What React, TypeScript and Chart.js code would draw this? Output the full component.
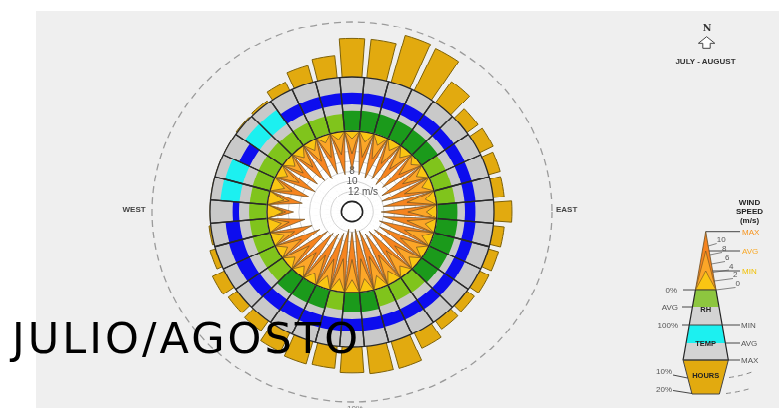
import React, { useEffect, useRef } from 'react';
import { Chart, registerables } from 'chart.js';

Chart.register(...registerables);

// ---------------- data (36 directions, clockwise from north) ----------------
const directions = ['N', '10°', '20°', '30°', '40°', '50°', '60°', '70°', '80°', 'E', '100°', '110°', '120°', '130°', '140°', '150°', '160°', '170°', 'S', '190°', '200°', '210°', '220°', '230°', '240°', '250°', '260°', 'W', '280°', '290°', '300°', '310°', '320°', '330°', '340°', '350°'];

// share of hours with wind from each direction (%)
const hoursPct = [7.0, 7.0, 8.8, 8.4, 4.7, 2.4, 2.6, 2.1, 1.9, 3.1, 1.9, 1.8, 1.8, 1.6, 1.8, 3.0, 5.0, 5.1, 4.8, 4.0, 4.2, 3.7, 2.2, 1.9, 2.3, 1.0, 0.3, 0, 0, 0, 0, 0.2, 0.4, 1.7, 3.1, 4.0];
// average relative humidity (%)
const rhAvgPct = [76, 77, 76, 75, 74, 72, 66, 65, 66, 73, 75, 76, 74, 73, 67, 66, 65, 74, 75, 66, 73, 74, 75, 66, 65, 64, 63, 64, 63, 64, 65, 66, 65, 66, 67, 66];
// average temperature, as % of the min..max band
const tempAvgPct = [42, 42, 42, 42, 42, 40, 40, 38, 38, 36, 38, 40, 40, 40, 42, 42, 42, 44, 44, 44, 44, 44, 46, 48, 50, 50, 48, 22, 66, 64, 40, 62, 62, 42, 42, 42];
// wind speed (m/s)
const windMax = [7.8, 8.5, 9.0, 8.5, 9.0, 8.5, 9.5, 10.0, 10.0, 10.5, 10.0, 10.5, 10.0, 10.5, 11.0, 11.0, 12.0, 12.5, 12.0, 12.5, 11.5, 11.0, 10.5, 10.0, 9.0, 8.0, 7.0, 5.0, 6.5, 7.5, 8.0, 7.5, 8.0, 8.5, 8.0, 8.5];
const windAvg = [4.5, 5, 5, 5, 5, 4.5, 5, 5.5, 5.5, 5.5, 5.5, 5.5, 5.5, 5.5, 6, 6, 6.5, 6.5, 6.5, 6.5, 6, 6, 5.5, 5.5, 5, 4.5, 4, 3.5, 4, 4, 4.5, 4, 4.5, 4.5, 4.5, 4.5];
const windMin = [1.5, 2, 2, 2, 2, 1.5, 2, 2, 2, 2, 2, 2, 2, 2, 2, 2.5, 2.5, 2.5, 2.5, 2.5, 2.5, 2, 2, 2, 2, 2.5, 2.5, 3, 3, 2.5, 2, 2, 2, 2, 1.5, 1.5];
const windLabelled = [8, 10, 12];
const hoursRingPct = 10;

// ---------------- style / layout ----------------
const GOLD = '#E2AA0F';
const GOLD_EDGE = '#7d6108';
const GREY = '#C9C9C9';
const BLUE = '#0D0DEE';
const CYAN = '#1CF0F0';
const DARK_GREEN = '#1B9A1B';
const LIGHT_GREEN = '#80C41C';
const LINE = '#2a2a2a';
const W_MAX = '#F6841F';
const W_AVG = '#FCA628';
const W_MIN = '#FAC513';

const RING_SIZE = 450;
const WIND_SIZE = 184;
const R_CALM = 85;
const R_RH_TOP = 113;
const R_OUTER = 142;
const R_TEN = 200;

function band(r0: number, r1: number, v0: number, v1: number) {
  const k = (r1 - r0) / (v1 - v0);
  const min = v0 - r0 / k;
  return { min, max: min + RING_SIZE / 2 / k };
}

const hide = { display: false };

function radial(range: { min: number; max: number }, start: number, extra: any = {}) {
  return {
    type: 'radialLinear',
    axis: 'r',
    min: range.min,
    max: range.max,
    startAngle: start,
    display: false,
    angleLines: hide,
    pointLabels: hide,
    ticks: { display: false },
    grid: { circular: true },
    ...extra,
  };
}

export default function App() {
  const ringRef = useRef<HTMLCanvasElement>(null);
  const windRef = useRef<HTMLCanvasElement>(null);

  useEffect(() => {
    const hoursRange = band(R_OUTER, R_TEN, 0, hoursRingPct);
    const rhRange = band(R_CALM, R_RH_TOP, 0, 100);
    const tempRange = band(R_RH_TOP, R_OUTER, 0, 100);
    const full = directions.map(() => 100);
    const zero = directions.map(() => 0);

    const ring = new Chart(ringRef.current!, {
      type: 'polarArea',
      data: {
        labels: directions,
        datasets: [
          { label: 'calm', data: zero, rAxisID: 'rRh', backgroundColor: '#ffffff', borderColor: '#ffffff', borderWidth: 1 },
          { label: 'cells', data: full, rAxisID: 'rTemp', backgroundColor: 'rgba(0,0,0,0)', borderColor: LINE, borderWidth: 1.3 },
          { label: 'RH avg', data: rhAvgPct, rAxisID: 'rRh', backgroundColor: rhAvgPct.map((v) => (v >= 70 ? DARK_GREEN : LIGHT_GREEN)), borderWidth: 0 },
          { label: 'RH range', data: full, rAxisID: 'rRh', backgroundColor: GREY, borderWidth: 0 },
          { label: 'Temp avg', data: tempAvgPct, rAxisID: 'rTemp', backgroundColor: tempAvgPct.map((v) => (v >= 55 ? CYAN : BLUE)), borderWidth: 0 },
          { label: 'Temp range', data: full, rAxisID: 'rTemp', backgroundColor: GREY, borderWidth: 0 },
          {
            label: 'Hours',
            data: hoursPct.flatMap((h) => [h, 0]),
            rAxisID: 'rHours',
            angle: (c: any) => (c.dataIndex % 2 === 0 ? 8 : 2),
            backgroundColor: (c: any) => (c.dataIndex % 2 === 0 ? GOLD : 'rgba(0,0,0,0)'),
            borderColor: GOLD_EDGE,
            borderWidth: (c: any) => (c.dataIndex % 2 === 0 ? 1 : 0),
          },
        ],
      } as any,
      options: {
        responsive: false,
        animation: false,
        events: [],
        layout: { padding: 0 },
        plugins: { legend: { display: false }, tooltip: { enabled: false } },
        scales: {
          rHours: radial(hoursRange, -4, {
            display: true,
            ticks: { display: false, stepSize: 10 },
            grid: {
              circular: true,
              color: (c: any) => (c.tick && Math.abs(c.tick.value - hoursRingPct) < 1e-6 ? '#9b9b9b' : 'rgba(0,0,0,0)'),
              lineWidth: 1.3,
              borderDash: [7, 5],
            },
            border: { dash: [7, 5] },
          }),
          rRh: radial(rhRange, -5),
          rTemp: radial(tempRange, -5),
        },
      } as any,
    });

    const windLabels = directions.flatMap((d) => [d, '']);
    const star = (vals: number[]) => vals.flatMap((v) => [v, 0]);
    const starStyle = { borderColor: '#6b4f22', borderWidth: 0.7, fill: 'end', pointRadius: 0 };

    const wind = new Chart(windRef.current!, {
      type: 'radar',
      data: {
        labels: windLabels,
        datasets: [
          { label: 'calm', data: windLabels.map(() => 0), borderColor: LINE, borderWidth: 1.4, fill: false, pointRadius: 0 },
          { label: 'MIN', data: star(windMin), backgroundColor: W_MIN, ...starStyle },
          { label: 'AVG', data: star(windAvg), backgroundColor: W_AVG, ...starStyle },
          { label: 'MAX', data: star(windMax), backgroundColor: W_MAX, ...starStyle },
        ],
      } as any,
      options: {
        responsive: false,
        animation: false,
        events: [],
        layout: { padding: 0 },
        elements: { line: { tension: 0 }, point: { radius: 0 } },
        plugins: { legend: { display: false }, tooltip: { enabled: false } },
        scales: {
          r: {
            min: 0,
            max: 16,
            reverse: true,
            startAngle: 0,
            angleLines: hide,
            pointLabels: hide,
            grid: {
              circular: true,
              color: (c: any) => (c.tick && c.tick.value === 14 ? '#222' : '#d2d2d2'),
              lineWidth: (c: any) => (c.tick && c.tick.value === 14 ? 1.6 : 1),
            },
            ticks: {
              stepSize: 2,
              color: '#555',
              showLabelBackdrop: false,
              font: { size: 10, family: 'Liberation Sans' },
              callback: (v: any) => {
                if (!windLabelled.includes(v)) return '';
                return v === 12 ? '\u00a0\u00a0\u00a0\u00a0\u00a0\u00a0\u00a0\u00a012 m/s' : String(v);
              },
            },
          },
        },
      } as any,
    });

    return () => {
      ring.destroy();
      wind.destroy();
    };
  }, []);

  // legend geometry helpers
  const ax = 705.7;
  const ay = 231.7;
  const s = 0.1765;
  const xl = (y: number) => ax - s * (y - ay);
  const xr = (y: number) => ax + s * (y - ay);
  const tri = (yTop: number) => `${ax},${yTop} ${xr(290)},290 ${xl(290)},290`;
  const quad = (y0: number, y1: number) => `${xl(y0)},${y0} ${xr(y0)},${y0} ${xr(y1)},${y1} ${xl(y1)},${y1}`;
  const f = { fontFamily: "'Liberation Sans', Arial, sans-serif" };
  const speedLabels: [string, number, number][] = [
    ['10', 716.7, 242],
    ['8', 722, 251],
    ['6', 725, 260],
    ['4', 729, 268.5],
    ['2', 733, 277],
    ['0', 735.5, 286],
  ];

  return (
    <div style={{ position: 'fixed', left: 0, top: 0, width: 779, height: 408, background: '#ffffff', overflow: 'hidden' }}>
      <div style={{ position: 'absolute', left: 36, top: 11, right: 0, bottom: 0, background: '#EFEFEF' }} />
      <div style={{ position: 'absolute', left: 352 - RING_SIZE / 2, top: -2, width: RING_SIZE, height: RING_SIZE, transform: 'scaleY(0.95)', transformOrigin: '0 0' }}>
        <canvas ref={ringRef} width={RING_SIZE} height={RING_SIZE} style={{ position: 'absolute', left: 0, top: 0, width: RING_SIZE, height: RING_SIZE }} />
        <canvas
          ref={windRef}
          width={WIND_SIZE}
          height={WIND_SIZE}
          style={{ position: 'absolute', left: (RING_SIZE - WIND_SIZE) / 2, top: (RING_SIZE - WIND_SIZE) / 2, width: WIND_SIZE, height: WIND_SIZE }}
        />
      </div>
      <svg width={779} height={408} style={{ position: 'absolute', left: 0, top: 0 }}>
        {/* compass + period */}
        <text x={707} y={30.7} textAnchor="middle" fontFamily="'DejaVu Serif', serif" fontWeight="bold" fontSize={9.5} fill="#333">N</text>
        <path d="M706.6 36.7 L714.8 43.3 L710.2 43.3 L710.2 48.3 L702.8 48.3 L702.8 43.3 L698.4 43.3 Z" fill="#fff" stroke="#444" strokeWidth={1} />
        <text x={705.5} y={64} textAnchor="middle" {...f} fontWeight="bold" fontSize={8} fill="#333">JULY - AUGUST</text>

        {/* compass labels */}
        <text x={122.5} y={212} {...f} fontWeight="bold" fontSize={8} fill="#444">WEST</text>
        <text x={556} y={212} {...f} fontWeight="bold" fontSize={8} fill="#444">EAST</text>
        <text x={355} y={411} textAnchor="middle" {...f} fontSize={8} fill="#777">10%</text>

        {/* legend */}
        <text x={749.5} y={205} textAnchor="middle" {...f} fontWeight="bold" fontSize={8} fill="#222">WIND</text>
        <text x={749.5} y={214} textAnchor="middle" {...f} fontWeight="bold" fontSize={8} fill="#222">SPEED</text>
        <text x={749.5} y={223} textAnchor="middle" {...f} fontWeight="bold" fontSize={8} fill="#222">(m/s)</text>

        <polygon points={tri(ay)} fill={W_MAX} stroke="#6b4f22" strokeWidth={0.8} />
        <polygon points={tri(251)} fill={W_AVG} stroke="#6b4f22" strokeWidth={0.6} />
        <polygon points={tri(271)} fill={W_MIN} stroke="#6b4f22" strokeWidth={0.6} />
        <polygon points={quad(290, 307)} fill="#8DC63F" />
        <polygon points={quad(307, 325)} fill="#D3D3D3" />
        <polygon points={quad(325, 343)} fill={CYAN} />
        <polygon points={quad(343, 360)} fill="#D3D3D3" />
        <polygon points={`${xl(360)},360 ${xr(360)},360 719.4,394 692,394`} fill={GOLD} stroke="#444" strokeWidth={1} />
        <polyline points={`${xl(290)},290 ${xl(360)},360`} fill="none" stroke="#222" strokeWidth={1.2} />
        <polyline points={`${xr(290)},290 ${xr(360)},360`} fill="none" stroke="#222" strokeWidth={1.2} />

        <g stroke="#333" strokeWidth={0.9}>
          <line x1={ax} y1={ay} x2={740} y2={ay} />
          <line x1={xr(251)} y1={251} x2={740} y2={251} />
          <line x1={xr(271)} y1={271} x2={740} y2={271} />
          <line x1={683} y1={290} x2={xr(290)} y2={290} />
          <line x1={682} y1={307} x2={xl(307)} y2={307} />
          <line x1={682} y1={325} x2={740} y2={325} />
          <line x1={xr(343)} y1={343} x2={740} y2={343} />
          <line x1={683} y1={360} x2={740} y2={360} />
          <line x1={673} y1={375} x2={687.5} y2={378} />
          <line x1={673} y1={390.5} x2={692} y2={393.5} />
          {speedLabels.map(([t, x, y]) => (
            <line key={'l' + t} x1={xr(y + 4)} y1={y + 4} x2={x} y2={y + 1.5} strokeWidth={0.7} stroke="#555" />
          ))}
        </g>
        <g stroke="#888" strokeWidth={1} strokeDasharray="5 4" fill="none">
          <path d="M729 377.5 Q 741 376 752 372" />
          <path d="M726 393.5 Q 739 392 752 388" />
        </g>

        <text x={ax} y={312} textAnchor="middle" {...f} fontWeight="bold" fontSize={7.5} fill="#222">RH</text>
        <text x={ax} y={346} textAnchor="middle" {...f} fontWeight="bold" fontSize={7.5} fill="#222">TEMP</text>
        <text x={ax} y={377.5} textAnchor="middle" {...f} fontWeight="bold" fontSize={7.5} fill="#222">HOURS</text>

        <g {...f} fontSize={8}>
          <text x={742} y={234.5} fill="#F7941D">MAX</text>
          <text x={742} y={254} fill="#F9A825">AVG</text>
          <text x={742} y={274} fill="#F2C000">MIN</text>
          <text x={677} y={293} textAnchor="end" fill="#555">0%</text>
          <text x={678} y={310} textAnchor="end" fill="#555">AVG</text>
          <text x={678} y={328} textAnchor="end" fill="#555">100%</text>
          <text x={741} y={328} fill="#555">MIN</text>
          <text x={741} y={346} fill="#555">AVG</text>
          <text x={741} y={363} fill="#555">MAX</text>
          <text x={672} y={373.5} textAnchor="end" fill="#555">10%</text>
          <text x={672} y={392} textAnchor="end" fill="#555">20%</text>
          {speedLabels.map(([t, x, y]) => (
            <text key={'t' + t} x={x} y={y} fill="#555">{t}</text>
          ))}
        </g>

        {/* overlay title */}
        <text x={12} y={353} fontFamily="'DejaVu Sans', sans-serif" fontSize={43} textLength={346} lengthAdjust="spacing" fill="#000">JULIO/AGOSTO</text>
      </svg>
    </div>
  );
}
